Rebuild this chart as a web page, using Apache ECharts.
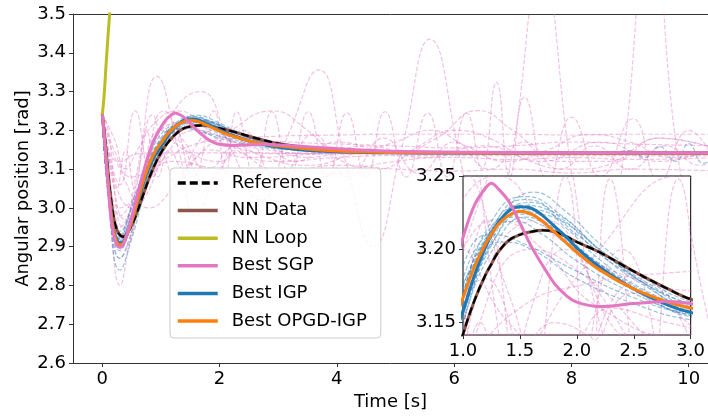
<!DOCTYPE html>
<html>
<head>
<meta charset="utf-8">
<script src="https://cdn.jsdelivr.net/npm/echarts@6/dist/echarts.min.js"></script>
<style>
  html, body { margin: 0; padding: 0; background: #fff; }
  #chart { width: 708px; height: 416px; }
</style>
</head>
<body>
<div id="chart"></div>
<script>
// time base shared by the main trajectories
const tMain = [0, 0.05, 0.1, 0.15, 0.2, 0.25, 0.3, 0.35, 0.4, 0.5, 0.6, 0.7, 0.8, 0.9,
  1.0, 1.1, 1.2, 1.25, 1.3, 1.4, 1.5, 1.6, 1.7, 1.8, 1.9, 2.0, 2.2, 2.5, 2.8, 3.0, 3.5,
  4.0, 4.5, 5.0, 6.0, 7.0, 8.0, 10.5];

const reference = [3.242, 3.17, 3.09, 3.02, 2.97, 2.943, 2.93, 2.926, 2.93, 2.955, 2.992, 3.035, 3.077, 3.113,
  3.142, 3.165, 3.183, 3.19, 3.197, 3.206, 3.21, 3.212, 3.213, 3.212, 3.209, 3.205, 3.198, 3.185, 3.173, 3.166, 3.155,
  3.148, 3.145, 3.143, 3.142, 3.1417, 3.1416, 3.1416];

const nnData = [3.242, 3.17, 3.09, 3.02, 2.97, 2.943, 2.93, 2.926, 2.93, 2.955, 2.992, 3.035, 3.077, 3.113,
  3.142, 3.165, 3.183, 3.19, 3.197, 3.206, 3.21, 3.212, 3.213, 3.212, 3.209, 3.205, 3.198, 3.185, 3.173, 3.166, 3.155,
  3.148, 3.145, 3.143, 3.142, 3.1417, 3.1416, 3.1416];

const bestSgp = [3.242, 3.15, 3.055, 2.97, 2.925, 2.904, 2.898, 2.903, 2.922, 2.975, 3.035, 3.092, 3.142, 3.181,
  3.208, 3.23, 3.242, 3.245, 3.242, 3.233, 3.218, 3.202, 3.189, 3.177, 3.169, 3.164, 3.161, 3.163, 3.1645, 3.163, 3.158,
  3.153, 3.149, 3.146, 3.144, 3.143, 3.142, 3.142];

const bestIgp = [3.242, 3.16, 3.07, 2.99, 2.94, 2.918, 2.91, 2.912, 2.925, 2.965, 3.015, 3.065, 3.106, 3.136,
  3.158, 3.182, 3.202, 3.21, 3.217, 3.226, 3.229, 3.228, 3.223, 3.216, 3.209, 3.201, 3.188, 3.173, 3.162, 3.157, 3.149,
  3.145, 3.143, 3.142, 3.1418, 3.1416, 3.1416, 3.1416];

const bestOpgd = [3.242, 3.155, 3.065, 2.985, 2.935, 2.912, 2.905, 2.908, 2.922, 2.965, 3.018, 3.07, 3.113, 3.145,
  3.167, 3.188, 3.204, 3.21, 3.216, 3.223, 3.226, 3.224, 3.219, 3.212, 3.205, 3.198, 3.186, 3.173, 3.164, 3.16, 3.152,
  3.147, 3.144, 3.143, 3.142, 3.1417, 3.1416, 3.1416];

// NN loop diverges right away
const tLoop = [0, 0.02, 0.04, 0.06, 0.08, 0.1, 0.125, 0.15];
const nnLoop = [3.242, 3.27, 3.31, 3.36, 3.405, 3.45, 3.5, 3.56];

// faint dashed runs of the SGP population
const sgpRuns = [
  [[0,3.242],[0.3,2.98],[0.7,3.08],[1.0,3.2],[1.67,3.30],[2.2,3.15],[2.7,3.02],[3.2,3.2],[3.69,3.356],[4.15,3.12],
   [4.62,2.9],[5.1,3.15],[5.59,3.435],[6.07,3.15],[6.55,2.8],[7.0,3.15],[7.49,3.62],[7.95,3.15],[8.4,2.66],
   [8.9,3.15],[9.35,3.8],[9.8,3.15],[10.5,2.6]],
  [[0,3.242],[0.15,3.1],[0.35,2.95],[0.6,3.1],[0.93,3.339],[1.3,3.15],[1.6,2.98],[2.0,3.1],[2.6,3.18],[3.3,3.12],
   [4.0,3.17],[5.0,3.14],[5.7,3.18],[6.41,3.251],[7.0,3.2],[7.8,3.12],[8.6,3.12],[9.5,3.18],[10.5,3.15]],
  [[0,3.242],[0.15,3.12],[0.3,3.06],[0.56,3.25],[0.85,3.08],[1.2,3.22],[1.55,3.08],[1.9,3.25],[2.1,3.09],
   [2.29,3.248],[2.6,3.08],[2.89,3.248],[3.2,3.08],[3.51,3.248],[3.84,3.08],[4.17,3.245],[4.5,3.08],[4.82,3.248],
   [5.18,3.08],[5.55,3.245],[5.88,3.08],[6.21,3.245],[6.47,3.1],[6.72,3.324],[6.95,3.08],[7.2,3.286],[7.6,3.07],
   [8.0,3.234],[8.5,3.08],[9.05,3.23],[9.5,3.07],[10.0,3.2],[10.5,3.1]],
  [[0,3.242],[0.2,3.15],[0.5,3.08],[1.0,3.12],[1.5,3.16],[2.0,3.175],[3.0,3.185],[4.0,3.188],[5.0,3.19],[6.0,3.19],
   [7.0,3.19],[8.0,3.188],[9.0,3.19],[10.5,3.19]],
  [[0,3.242],[0.1,3.15],[0.3,3.12],[0.6,3.14],[1.0,3.142],[3.0,3.142],[6.0,3.142],[10.5,3.142]],
  [[0,3.242],[0.3,2.95],[0.7,3.05],[1.2,3.12],[2.0,3.1],[3.0,3.09],[4.0,3.11],[5.0,3.1],[6.0,3.095],[7.0,3.1],
   [8.0,3.09],[9.0,3.1],[10.5,3.095]],
  [[0,3.242],[0.15,2.95],[0.3,2.8],[0.45,2.9],[0.7,3.1],[1.0,3.2],[1.4,3.15],[2.0,3.12],[2.5,3.17],[3.5,3.13],
   [4.5,3.16],[5.5,3.13],[6.5,3.16],[7.5,3.12],[8.5,3.17],[9.5,3.12],[10.5,3.16]],
  [[0,3.242],[0.3,3.1],[0.8,3.0],[1.2,3.05],[1.6,3.13],[2.2,3.2],[2.9,3.25],[3.5,3.2],[4.1,3.12],[4.7,3.1],
   [5.4,3.16],[6.0,3.2],[6.6,3.18],[7.3,3.12],[8.0,3.1],[8.8,3.12],[9.5,3.18],[10.5,3.15]],
  [[0,3.242],[0.25,3.05],[0.5,3.0],[0.9,3.1],[1.3,3.2],[1.7,3.22],[2.2,3.17],[2.8,3.1],[3.4,3.07],[4.0,3.09],
   [5.0,3.12],[6.0,3.13],[7.0,3.125],[8.0,3.13],[9.0,3.125],[10.5,3.13]],
  [[0,3.242],[0.3,3.0],[0.7,3.05],[1.2,3.18],[1.8,3.06],[2.4,3.2],[3.0,3.07],[3.6,3.19],[4.2,3.08],[4.8,3.18],
   [5.4,3.09],[6.0,3.17],[6.6,3.1],[7.2,3.17],[7.8,3.1],[8.4,3.16],[9.0,3.1],[9.6,3.16],[10.2,3.11],[10.5,3.13]],
  [[0,3.242],[0.15,3.0],[0.3,2.87],[0.5,2.93],[0.75,3.1],[1.05,3.25],[1.4,3.17],[1.8,3.1],[2.3,3.16],[2.8,3.15],
   [3.5,3.14],[10.5,3.14]],
  [[0,3.242],[0.2,3.18],[0.4,3.1],[0.6,3.15],[0.9,3.22],[1.3,3.25],[1.8,3.21],[2.5,3.18],[3.2,3.17],[4.0,3.165],
   [5.0,3.16],[6.0,3.155],[7.0,3.16],[8.0,3.17],[9.0,3.165],[10.5,3.16]],
  [[0,3.242],[0.2,3.05],[0.4,2.97],[0.7,3.02],[1.1,3.14],[1.6,3.2],[2.1,3.18],[2.8,3.13],[3.5,3.11],[4.3,3.14],
   [5.0,3.17],[5.6,3.2],[6.2,3.16],[6.9,3.12],[7.6,3.15],[8.3,3.19],[9.0,3.17],[9.7,3.13],[10.5,3.15]],
  [[0,3.242],[0.12,3.08],[0.28,2.92],[0.45,2.97],[0.65,3.12],[0.85,3.24],[1.05,3.14],[1.3,3.06],[1.6,3.16],
   [1.9,3.2],[2.4,3.14],[3.0,3.12],[4.0,3.13],[5.0,3.135],[7.0,3.135],[10.5,3.135]],
  [[0,3.242],[0.1,3.2],[0.25,3.05],[0.4,3.15],[0.55,3.05],[0.75,3.2],[0.95,3.08],[1.15,3.15],[1.4,3.1],
   [1.8,3.15],[2.5,3.13],[4.0,3.14],[10.5,3.14]],
  [[0,3.242],[0.2,3.0],[0.4,2.9],[0.6,3.0],[0.8,3.15],[1.0,3.2],[1.3,3.22],[1.7,3.2],[2.2,3.16],[3.0,3.14],
   [10.5,3.142]]
];

// faint dashed runs of the IGP population
const igpRuns = [
  [[0,3.242],[0.1,3.05],[0.3,2.91],[0.5,2.96],[0.8,3.1],[1.0,3.165],[1.3,3.218],[1.6,3.232],[1.9,3.215],
   [2.2,3.193],[2.6,3.172],[3.0,3.16],[3.5,3.15],[4.5,3.144],[6.0,3.142],[10.5,3.142]],
  [[0,3.242],[0.1,3.06],[0.3,2.92],[0.5,2.96],[0.8,3.09],[1.0,3.15],[1.3,3.213],[1.62,3.239],[1.9,3.226],
   [2.2,3.204],[2.6,3.18],[3.0,3.164],[3.5,3.153],[4.5,3.145],[6.0,3.142],[10.5,3.142]],
  [[0,3.242],[0.1,3.03],[0.3,2.84],[0.5,2.92],[0.8,3.08],[1.0,3.15],[1.3,3.205],[1.55,3.222],[1.8,3.213],
   [2.2,3.19],[2.6,3.171],[3.0,3.158],[3.5,3.149],[4.5,3.144],[6.0,3.142],[10.5,3.142]],
  [[0,3.242],[0.1,3.07],[0.3,2.93],[0.5,3.0],[0.8,3.13],[1.06,3.2],[1.25,3.21],[1.5,3.205],[2.0,3.185],
   [2.5,3.167],[3.0,3.155],[3.5,3.148],[4.5,3.143],[10.5,3.142]],
  [[0,3.242],[0.1,3.06],[0.3,2.905],[0.5,2.97],[0.8,3.11],[1.0,3.17],[1.3,3.22],[1.45,3.228],[1.7,3.22],
   [2.0,3.2],[2.4,3.178],[3.0,3.157],[3.5,3.149],[4.5,3.143],[10.5,3.142]],
  [[0,3.242],[0.1,3.07],[0.3,2.92],[0.5,2.975],[0.8,3.1],[1.0,3.155],[1.3,3.21],[1.5,3.225],[1.75,3.223],
   [2.0,3.21],[2.4,3.186],[3.0,3.162],[3.5,3.152],[4.5,3.145],[10.5,3.142]],
  [[0,3.242],[0.1,3.055],[0.3,2.9],[0.5,2.965],[0.8,3.105],[1.0,3.17],[1.25,3.213],[1.45,3.219],[1.7,3.21],
   [2.0,3.192],[2.5,3.17],[3.0,3.156],[4.0,3.146],[10.5,3.142]],
  [[0,3.242],[0.1,3.06],[0.3,2.91],[0.5,2.97],[0.8,3.1],[1.0,3.16],[1.3,3.215],[1.5,3.23],[1.8,3.225],
   [2.2,3.2],[2.6,3.178],[3.0,3.163],[4.0,3.148],[6.0,3.143],[8.6,3.142],[9.0,3.148],[9.25,3.13],[9.5,3.158],
   [9.78,3.12],[10.0,3.166],[10.25,3.115],[10.5,3.14]],
  [[0,3.242],[0.1,3.04],[0.3,2.87],[0.5,2.94],[0.8,3.09],[1.0,3.16],[1.3,3.22],[1.55,3.234],[1.85,3.222],
   [2.2,3.197],[2.6,3.175],[3.0,3.16],[4.0,3.147],[10.5,3.142]],
  [[0,3.242],[0.1,3.065],[0.3,2.915],[0.5,2.98],[0.8,3.12],[1.0,3.18],[1.2,3.21],[1.4,3.222],[1.65,3.218],
   [2.0,3.198],[2.5,3.172],[3.0,3.155],[4.0,3.145],[10.5,3.142]],
  [[0,3.242],[0.1,3.06],[0.3,2.9],[0.5,2.96],[0.8,3.1],[1.0,3.17],[1.3,3.225],[1.55,3.236],[1.85,3.224],
   [2.2,3.2],[2.6,3.176],[3.0,3.159],[4.0,3.147],[10.5,3.142]],
  [[0,3.242],[0.1,3.07],[0.3,2.925],[0.5,2.985],[0.8,3.115],[1.0,3.175],[1.3,3.216],[1.5,3.224],[1.8,3.214],
   [2.2,3.19],[2.6,3.169],[3.0,3.154],[4.0,3.145],[10.5,3.142]],
  [[0,3.242],[0.1,3.05],[0.3,2.89],[0.5,2.955],[0.8,3.095],[1.0,3.155],[1.3,3.21],[1.6,3.227],[1.9,3.218],
   [2.3,3.193],[2.7,3.172],[3.0,3.161],[4.0,3.148],[10.5,3.142]],
  [[0,3.242],[0.1,3.08],[0.3,2.94],[0.6,3.05],[0.9,3.15],[1.1,3.19],[1.35,3.205],[1.6,3.2],[2.0,3.18],
   [2.5,3.163],[3.0,3.152],[4.0,3.144],[10.5,3.142]]
];

const legendNames = ['Reference', 'NN Data', 'NN Loop', 'Best SGP', 'Best IGP', 'Best OPGD-IGP'];
const xTicksMain = [0, 2, 4, 6, 8, 10];
const yTicksInset = [3.15, 3.2, 3.25];

const FONT = 'DejaVu Sans';
const SPINE = '#333';

const zip = (t, v) => t.map((x, i) => [x, v[i]]);

function runSeries(runs, color, idx) {
  return runs.map((run) => ({
    type: 'line',
    data: run,
    xAxisIndex: idx,
    yAxisIndex: idx,
    smooth: 0.5,
    symbol: 'none',
    silent: true,
    z: idx ? 4 : 1,
    lineStyle: { color, width: 1.2, type: [4.5, 2], opacity: 0.45 },
  }));
}

function curve(name, t, v, color, width, dash, idx) {
  return {
    type: 'line', name, data: zip(t, v),
    xAxisIndex: idx, yAxisIndex: idx,
    smooth: 0.4, symbol: 'none', z: idx ? 5 : 2,
    itemStyle: { color },
    lineStyle: { color, width, type: dash || 'solid' },
  };
}

function curveSeries(idx) {
  return [
    curve('NN Data', tMain, nnData, '#8c564b', 3, null, idx),
    curve('Reference', tMain, reference, '#000', 2.2, [8, 4], idx),
    curve('NN Loop', tLoop, nnLoop, '#bcbd22', 3, null, idx),
    curve('Best IGP', tMain, bestIgp, '#1f77b4', 3, null, idx),
    curve('Best OPGD-IGP', tMain, bestOpgd, '#ff7f0e', 3, null, idx),
    curve('Best SGP', tMain, bestSgp, '#e377c2', 3, null, idx),
  ];
}

const chart = echarts.init(document.getElementById('chart'));

const label = { color: '#000', fontSize: 18, fontFamily: FONT, margin: 7 };
const tick = { show: true, inside: false, length: 4, lineStyle: { color: SPINE, width: 1 } };
const spine = { show: true, onZero: false, lineStyle: { color: SPINE, width: 1 } };
const noLine = { show: false, onZero: false };

chart.setOption({
  animation: false,
  backgroundColor: '#fff',
  textStyle: { fontFamily: FONT },
  grid: [
    { left: 73, right: 0, top: 14, bottom: 52, show: false },
    { left: 463, top: 176, width: 228, height: 159, show: true, z: 3, borderColor: '#000', borderWidth: 1, backgroundColor: '#fff' },
  ],
  legend: {
    data: legendNames,
    orient: 'vertical',
    left: 170,
    top: 168,
    padding: [5, 14, 7, 6],
    itemWidth: 40,
    itemHeight: 14,
    itemGap: 7.6,
    backgroundColor: 'rgba(255,255,255,0.8)',
    borderColor: '#cccccc',
    borderWidth: 1,
    borderRadius: 4,
    z: 10,
    itemStyle: { opacity: 0 },
    lineStyle: { width: 3.5 },
    textStyle: { fontSize: 18, fontFamily: FONT, color: '#000', lineHeight: 20, padding: [0, 0, 0, 9] },
  },
  xAxis: [
    {
      type: 'value', gridIndex: 0, min: -0.5, max: 10.33,
      name: 'Time [s]', nameLocation: 'middle', nameGap: 27,
      nameTextStyle: { fontSize: 18, color: '#000', fontFamily: FONT },
      axisLine: spine,
      axisTick: { ...tick, customValues: xTicksMain },
      axisLabel: { ...label, customValues: xTicksMain, formatter: (v) => String(v) },
      splitLine: { show: false },
    },
    {
      type: 'value', gridIndex: 1, min: 1, max: 3, interval: 0.5, z: 6,
      axisLine: noLine,
      axisTick: tick,
      axisLabel: { ...label, formatter: (v) => v.toFixed(1) },
      splitLine: { show: false },
    },
    {
      // top spine of the main axes
      type: 'value', gridIndex: 0, position: 'top', min: -0.5, max: 10.33,
      axisLine: spine,
      axisTick: { show: false },
      axisLabel: { show: false },
      splitLine: { show: false },
    },
  ],
  yAxis: [
    {
      type: 'value', gridIndex: 0, min: 2.6, max: 3.5, interval: 0.1,
      name: 'Angular position [rad]', nameLocation: 'middle', nameGap: 41,
      nameMoveOverlap: false,
      nameTextStyle: { fontSize: 18, color: '#000', fontFamily: FONT },
      axisLine: spine,
      axisTick: tick,
      axisLabel: { ...label, formatter: (v) => v.toFixed(1) },
      splitLine: { show: false },
    },
    {
      type: 'value', gridIndex: 1, min: 3.1416, max: 3.25, z: 6,
      axisLine: noLine,
      axisTick: { ...tick, customValues: yTicksInset },
      axisLabel: { ...label, customValues: yTicksInset, formatter: (v) => v.toFixed(2) },
      splitLine: { show: false },
    },
  ],
  series: [
    ...runSeries(sgpRuns, '#e377c2', 0),
    ...runSeries(igpRuns, '#1f77b4', 0),
    ...curveSeries(0),
    ...runSeries(sgpRuns, '#e377c2', 1),
    ...runSeries(igpRuns, '#1f77b4', 1),
    ...curveSeries(1),
  ],
});
</script>
</body>
</html>
